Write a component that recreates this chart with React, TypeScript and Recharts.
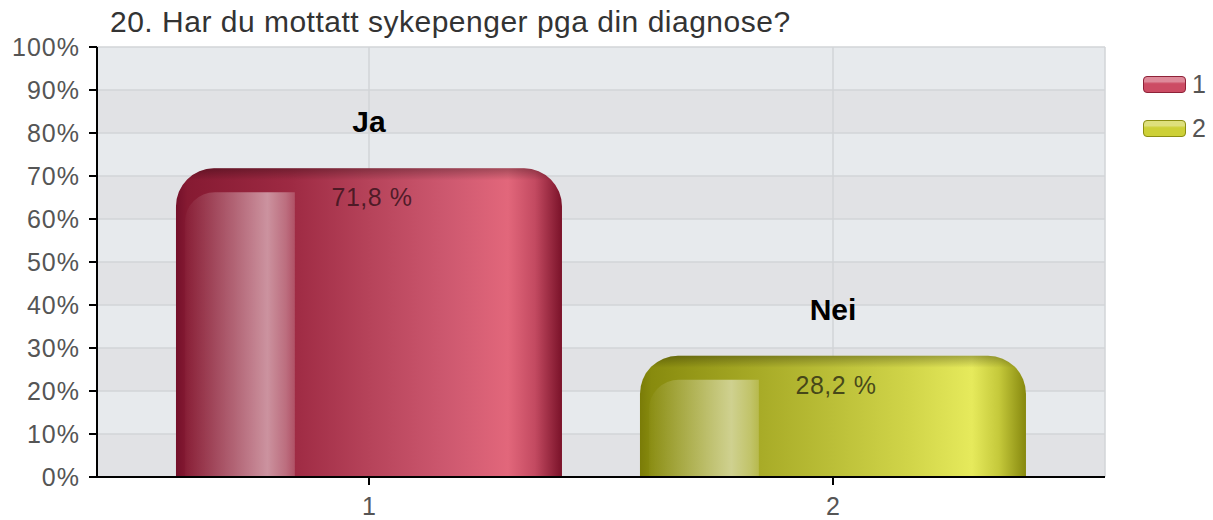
import React from 'react';
import { BarChart, Bar, XAxis, YAxis, CartesianGrid, LabelList } from 'recharts';

const title = '20. Har du mottatt sykepenger pga din diagnose?';
const categories = ['1', '2'];
const answers = ['Ja', 'Nei'];
const percents = [71.8, 28.2];
const percentLabels = ['71,8 %', '28,2 %'];
const yTicks = [0, 10, 20, 30, 40, 50, 60, 70, 80, 90, 100];
const legendLabels = ['1', '2'];

const palettes = [
  {
    id: 'red',
    stops: [
      [0, '#74102a'], [0.03, '#861a32'], [0.3, '#9e2a43'], [0.5, '#b6435a'],
      [0.7, '#cd586f'], [0.86, '#e2677b'], [0.93, '#c34a61'], [1, '#7a1229'],
    ],
    swatch: '#cc4c64', border: '#8e2238', text: 'rgba(60,20,30,0.85)',
  },
  {
    id: 'yel',
    stops: [
      [0, '#7a7c08'], [0.03, '#888b0e'], [0.3, '#a7aa26'], [0.5, '#bbbf38'],
      [0.7, '#d1d549'], [0.86, '#e6ea5c'], [0.93, '#c5c93b'], [1, '#86880e'],
    ],
    swatch: '#cdd037', border: '#8c8e12', text: 'rgba(50,50,20,0.85)',
  },
];

const data = categories.map((c, i) => ({ category: c, answer: answers[i], value: percents[i], pct: percentLabels[i] }));

const FONT = '"Liberation Sans", Arial, Helvetica, sans-serif';

const GlossyBar = (props: any) => {
  const { x, y, width, height, index } = props;
  if (!width || height <= 0) return null;
  const p = palettes[index % palettes.length];
  const r = Math.min(38, width / 2, height);
  const body = `M${x},${y + height} L${x},${y + r} A${r},${r} 0 0 1 ${x + r},${y} L${x + width - r},${y} A${r},${r} 0 0 1 ${x + width},${y + r} L${x + width},${y + height} Z`;
  const sx = x + width * 0.023;
  const sw = width * 0.285;
  const sy = y + 24;
  const sr = Math.min(30, sw);
  const strip = sy < y + height ? `M${sx},${y + height} L${sx},${sy + sr} A${sr},${sr} 0 0 1 ${sx + sr},${sy} L${sx + sw},${sy} L${sx + sw},${y + height} Z` : '';
  const gid = `g-${p.id}`;
  const tid = `t-${p.id}`;
  const hid = `h-${p.id}`;
  const topOff = Math.min(1, 12 / height);
  return (
    <g>
      <defs>
        <linearGradient id={gid} x1="0" y1="0" x2="1" y2="0">
          {p.stops.map(([o, c]: any, k: number) => <stop key={k} offset={o} stopColor={c} />)}
        </linearGradient>
        <linearGradient id={tid} x1="0" y1="0" x2="0" y2="1">
          <stop offset={0} stopColor="#000" stopOpacity={0.28} />
          <stop offset={topOff} stopColor="#000" stopOpacity={0} />
          <stop offset={1} stopColor="#000" stopOpacity={0} />
        </linearGradient>
        <linearGradient id={hid} x1="0" y1="0" x2="1" y2="0">
          <stop offset={0} stopColor="#fff" stopOpacity={0.02} />
          <stop offset={0.45} stopColor="#fff" stopOpacity={0.3} />
          <stop offset={0.75} stopColor="#fff" stopOpacity={0.5} />
          <stop offset={0.92} stopColor="#fff" stopOpacity={0.32} />
          <stop offset={1} stopColor="#fff" stopOpacity={0.18} />
        </linearGradient>
      </defs>
      <path d={body} fill={`url(#${gid})`} />
      <path d={body} fill={`url(#${tid})`} />
      {strip && <path d={strip} fill={`url(#${hid})`} />}
    </g>
  );
};

const AnswerLabel = (props: any) => {
  const { x, y, width, value } = props;
  return (
    <text x={x + width / 2} y={y - 36} textAnchor="middle" fontFamily={FONT} fontSize={30} fontWeight="bold" fill="#000">
      {value}
    </text>
  );
};

const PctLabel = (props: any) => {
  const { x, y, width, value, index } = props;
  const p = palettes[index % palettes.length];
  return (
    <text x={x + width / 2 + 3} y={y + 38} textAnchor="middle" fontFamily={FONT} fontSize={25} letterSpacing={0.5} fill={p.text}>
      {value}
    </text>
  );
};

export default function App() {
  return (
    <div style={{ position: 'absolute', left: 0, top: 0, width: 1213, height: 520, background: '#fff', fontFamily: FONT }}>
      <div style={{ position: 'absolute', left: 110, top: 7, fontSize: 30, lineHeight: '29px', letterSpacing: 0.5, color: '#333', whiteSpace: 'nowrap' }}>
        {title}
      </div>
      <BarChart
        width={1213}
        height={520}
        data={data}
        margin={{ top: 47, right: 108, bottom: 3, left: 0 }}
        barCategoryGap="8.4%"
      >
        <CartesianGrid
          stroke="#d2d4d7"
          strokeWidth={1.5}
          horizontalFill={['#e7eaed', '#e1e2e5']}
          fillOpacity={1}
        />
        <XAxis
          dataKey="category"
          height={40}
          padding={{ left: 40, right: 40 }}
          tickSize={8}
          tickMargin={12}
          axisLine={{ stroke: '#000', strokeWidth: 2 }}
          tickLine={{ stroke: '#000', strokeWidth: 2 }}
          tick={{ fill: '#555', fontSize: 25, fontFamily: FONT }}
        />
        <XAxis xAxisId="top" dataKey="category" orientation="top" height={0} tick={false} tickLine={false} axisLine={{ stroke: '#a3a5a8', strokeWidth: 2 }} />
        <YAxis
          width={97}
          domain={[0, 100]}
          ticks={yTicks}
          interval={0}
          tickFormatter={(v: number) => `${v}%`}
          tickSize={8}
          tickMargin={9}
          axisLine={{ stroke: '#000', strokeWidth: 2 }}
          tickLine={{ stroke: '#000', strokeWidth: 2 }}
          tick={{ fill: '#555', fontSize: 25, fontFamily: FONT, letterSpacing: 1 }}
        />
        <YAxis yAxisId="right" orientation="right" width={0} domain={[0, 100]} tick={false} tickLine={false} axisLine={{ stroke: '#a3a5a8', strokeWidth: 2 }} />
        <Bar dataKey="value" shape={<GlossyBar />} isAnimationActive={false}>
          <LabelList dataKey="answer" content={<AnswerLabel />} />
          <LabelList dataKey="pct" content={<PctLabel />} />
        </Bar>
      </BarChart>
      <div style={{ position: 'absolute', left: 1143, top: 62 }}>
        {legendLabels.map((l, i) => {
          const p = palettes[i % palettes.length];
          return (
            <div key={l} style={{ display: 'flex', alignItems: 'center', height: 44 }}>
              <div
                style={{
                  width: 41,
                  height: 15,
                  borderRadius: 4,
                  border: `1.5px solid ${p.border}`,
                  background: `linear-gradient(to bottom, rgba(255,255,255,0.35) 0%, rgba(255,255,255,0.35) 30%, rgba(255,255,255,0) 45%), ${p.swatch}`,
                }}
              />
              <span style={{ marginLeft: 6, fontSize: 25, color: '#555', lineHeight: '25px' }}>{l}</span>
            </div>
          );
        })}
      </div>
    </div>
  );
}
